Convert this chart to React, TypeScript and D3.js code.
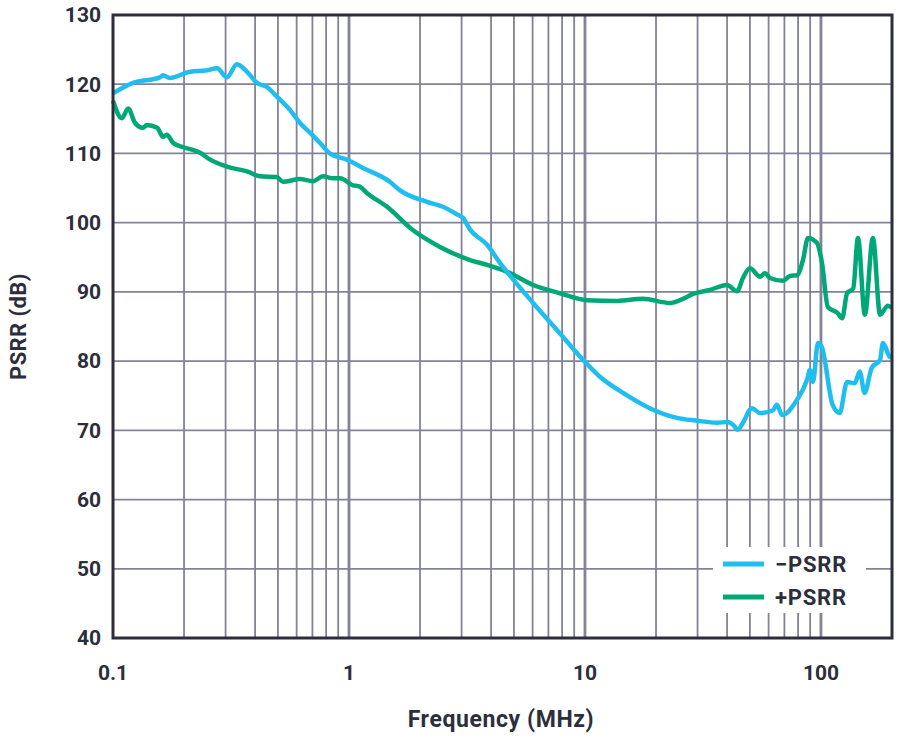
import { useEffect, useRef } from 'react';
import * as d3 from 'd3';

// -PSRR (blue)
const negFreq = [0.1, 0.1215, 0.158, 0.163, 0.174, 0.212, 0.25, 0.276, 0.304, 0.335, 0.37, 0.407, 0.449, 0.495, 0.562, 0.62, 0.683, 0.754, 0.83, 0.98, 1.146, 1.49, 1.64, 2.14, 2.5, 2.87, 3.04, 3.26, 3.85, 4.36, 4.67, 6.03, 7.84, 9.81, 11.6, 14.5, 18.8, 24.5, 29.8, 36.2, 40, 42.4, 44.5, 46.7, 51, 55.2, 62.6, 65.1, 68.4, 79.1, 87.3, 89.8, 92.5, 97.1, 100.9, 112, 120, 129, 139, 146, 153, 164, 178, 183, 196, 200];
const negPsrr = [118.7, 120.2, 121, 121.3, 120.9, 121.8, 122, 122.3, 121, 122.9, 121.8, 120.2, 119.6, 118.2, 116.3, 114.4, 113, 111.5, 110, 109.1, 107.9, 105.9, 104.7, 103, 102.3, 101.2, 100.7, 99, 96.8, 94.2, 92.9, 88.4, 84, 80.2, 77.7, 75.4, 73.2, 71.8, 71.4, 71.1, 71.2, 70.8, 70.1, 71.1, 73.2, 72.5, 72.9, 73.7, 72.2, 74.4, 77.3, 78.7, 77, 82.6, 82, 73.7, 72.5, 77, 76.8, 78.5, 75.4, 79, 80.2, 82.6, 80.6, 80.5];

// +PSRR (green)
const posFreq = [0.1, 0.109, 0.116, 0.124, 0.134, 0.139, 0.154, 0.163, 0.169, 0.18, 0.198, 0.218, 0.234, 0.258, 0.304, 0.37, 0.42, 0.495, 0.525, 0.62, 0.704, 0.776, 0.855, 0.916, 1.04, 1.11, 1.19, 1.45, 1.87, 2.43, 3.26, 3.85, 4.67, 6.03, 7.84, 10.2, 13.7, 17.6, 22.9, 26, 28.7, 33.9, 40, 44.1, 46.7, 50, 55.2, 57.9, 60.8, 69, 73.9, 79.1, 83.9, 88.1, 96.1, 101, 107, 118, 123, 129, 137, 143.5, 153.5, 166, 178, 192, 200];
const posPsrr = [117.6, 115.1, 116.5, 114.4, 113.7, 114.1, 113.7, 112.4, 112.7, 111.5, 110.9, 110.5, 110.1, 109.1, 108.1, 107.4, 106.7, 106.6, 105.9, 106.3, 106, 106.7, 106.4, 106.4, 105.4, 105.2, 104.3, 102.3, 98.9, 96.5, 94.6, 93.9, 92.9, 91, 89.8, 88.8, 88.7, 89, 88.4, 89, 89.7, 90.3, 91, 90.1, 92, 93.4, 92.2, 92.7, 92, 91.6, 92.3, 92.4, 94.6, 97.8, 97.1, 94.2, 87.8, 86.9, 86.2, 89.8, 90.5, 97.8, 86.7, 97.8, 86.7, 88, 87.7];

const yTicks = [40, 50, 60, 70, 80, 90, 100, 110, 120, 130];
const xTicks = [0.1, 1, 10, 100];
const xTickLabels = ['0.1', '1', '10', '100'];
const seriesNames = ['\u2212PSRR', '+PSRR'];

const BLUE = '#1fbeef';
const GREEN = '#00a878';
const GRID = '#828396';
const DARK = '#2c2e3b';
const FONT = 'Roboto, "Noto Sans", sans-serif';

export default function App() {
  const ref = useRef<SVGSVGElement>(null);

  useEffect(() => {
    if (!ref.current) return;
    const svg = d3.select(ref.current);
    svg.selectAll('*').remove();

    const margin = { top: 15, right: 8, bottom: 100, left: 113 };
    const width = 900;
    const height = 738;
    const x = d3.scaleLog().domain([0.1, 200]).range([margin.left, width - margin.right]);
    const y = d3.scaleLinear().domain([40, 130]).range([height - margin.bottom, margin.top]);

    // vertical grid: 1..9 per decade
    const minor: number[] = [];
    for (let dec = 0.1; dec < 200; dec *= 10) {
      for (let k = 1; k <= 9; k++) {
        const v = +(dec * k).toPrecision(3);
        if (v > 0.1 && v <= 200) minor.push(v);
      }
    }
    svg.append('g')
      .selectAll('line')
      .data(minor)
      .join('line')
      .attr('x1', d => x(d))
      .attr('x2', d => x(d))
      .attr('y1', y(40))
      .attr('y2', y(130))
      .attr('stroke', GRID)
      .attr('stroke-width', d => (xTicks.includes(d) ? 2.8 : 1.8));

    svg.append('g')
      .selectAll('line')
      .data(yTicks.filter(t => t > 40 && t < 130))
      .join('line')
      .attr('x1', x(0.1))
      .attr('x2', x(200))
      .attr('y1', d => y(d))
      .attr('y2', d => y(d))
      .attr('stroke', GRID)
      .attr('stroke-width', 1.8);

    // legend backdrop
    svg.append('rect')
      .attr('x', 713)
      .attr('y', 547)
      .attr('width', 153)
      .attr('height', 66)
      .attr('fill', '#fff');

    const line = d3.line<[number, number]>()
      .x(d => x(d[0]))
      .y(d => y(d[1]))
      .curve(d3.curveMonotoneX);

    const negData = negFreq.map((f, i) => [f, negPsrr[i]] as [number, number]);
    const posData = posFreq.map((f, i) => [f, posPsrr[i]] as [number, number]);

    svg.append('path')
      .datum(posData)
      .attr('fill', 'none')
      .attr('stroke', GREEN)
      .attr('stroke-width', 4.5)
      .attr('stroke-linejoin', 'round')
      .attr('d', line);

    svg.append('path')
      .datum(negData)
      .attr('fill', 'none')
      .attr('stroke', BLUE)
      .attr('stroke-width', 4.5)
      .attr('stroke-linejoin', 'round')
      .attr('d', line);

    // frame
    svg.append('rect')
      .attr('x', x(0.1))
      .attr('y', y(130))
      .attr('width', x(200) - x(0.1))
      .attr('height', y(40) - y(130))
      .attr('fill', 'none')
      .attr('stroke', DARK)
      .attr('stroke-width', 3);

    // tick labels
    svg.append('g')
      .selectAll('text')
      .data(yTicks)
      .join('text')
      .attr('x', 101)
      .attr('y', d => y(d))
      .attr('dy', '0.35em')
      .attr('text-anchor', 'end')
      .attr('font-family', FONT)
      .attr('font-weight', 700)
      .attr('font-size', 21)
      .attr('fill', DARK)
      .text(d => d);

    svg.append('g')
      .selectAll('text')
      .data(xTicks)
      .join('text')
      .attr('x', d => x(d))
      .attr('y', 673)
      .attr('dy', '0.35em')
      .attr('text-anchor', 'middle')
      .attr('font-family', FONT)
      .attr('font-weight', 700)
      .attr('font-size', 21)
      .attr('fill', DARK)
      .text((_, i) => xTickLabels[i]);

    // axis titles
    svg.append('text')
      .attr('x', 501)
      .attr('y', 719)
      .attr('dy', '0.35em')
      .attr('text-anchor', 'middle')
      .attr('font-family', FONT)
      .attr('font-weight', 700)
      .attr('font-size', 23)
      .attr('letter-spacing', 0.6)
      .attr('fill', DARK)
      .text('Frequency (MHz)');

    svg.append('text')
      .attr('transform', `translate(18, ${(y(40) + y(130)) / 2}) rotate(-90)`)
      .attr('dy', '0.35em')
      .attr('text-anchor', 'middle')
      .attr('font-family', FONT)
      .attr('font-weight', 700)
      .attr('font-size', 22)
      .attr('letter-spacing', 0.4)
      .attr('fill', DARK)
      .text('PSRR (dB)');

    // legend
    const legend = svg.append('g');
    [BLUE, GREEN].forEach((c, i) => {
      const ly = 564 + i * 33;
      legend.append('line')
        .attr('x1', 723)
        .attr('x2', 764)
        .attr('y1', ly)
        .attr('y2', ly)
        .attr('stroke', c)
        .attr('stroke-width', 5);
      legend.append('text')
        .attr('x', 775)
        .attr('y', ly)
        .attr('dy', '0.35em')
        .attr('font-family', FONT)
        .attr('font-weight', 700)
        .attr('font-size', 22)
        .attr('letter-spacing', 0.8)
        .attr('fill', DARK)
        .text(seriesNames[i]);
    });
  }, []);

  return (
    <svg
      ref={ref}
      width={900}
      height={738}
      style={{ position: 'absolute', left: 0, top: 0, background: '#fff' }}
    />
  );
}
